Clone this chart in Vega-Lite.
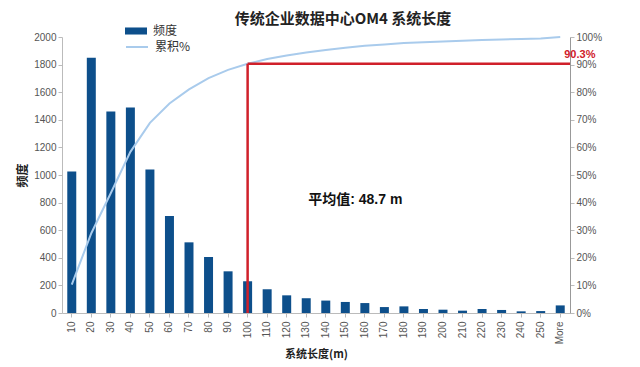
{
  "$schema": "https://vega.github.io/schema/vega-lite/v6.json",
  "autosize": {"type": "none"},
  "width": 508,
  "height": 276,
  "padding": {"left": 62, "top": 37, "right": 70, "bottom": 54},
  "background": "white",
  "config": {
    "view": {"stroke": null},
    "font": "Liberation Sans, Noto Sans CJK SC",
    "axis": {"labelFont": "Liberation Sans, Noto Sans CJK SC", "titleFont": "Noto Sans CJK SC", "grid": false, "domainColor": "#bbbbbb", "tickColor": "#bbbbbb", "labelColor": "#555555", "labelFontSize": 10, "tickSize": 4}
  },
  "title": {"text": "传统企业数据中心OM4 系统长度", "fontSize": 15, "fontWeight": "bold", "color": "#222222", "font": "Noto Sans CJK SC", "offset": -7, "dx": 27},
  "datasets": {
    "freq": [
      {"cat": "10", "freq": 1025, "cum": 0.103},
      {"cat": "20", "freq": 1850, "cum": 0.289},
      {"cat": "30", "freq": 1460, "cum": 0.435},
      {"cat": "40", "freq": 1490, "cum": 0.584},
      {"cat": "50", "freq": 1040, "cum": 0.689},
      {"cat": "60", "freq": 703, "cum": 0.759},
      {"cat": "70", "freq": 512, "cum": 0.810},
      {"cat": "80", "freq": 406, "cum": 0.851},
      {"cat": "90", "freq": 302, "cum": 0.881},
      {"cat": "100", "freq": 230, "cum": 0.903},
      {"cat": "110", "freq": 172, "cum": 0.920},
      {"cat": "120", "freq": 128, "cum": 0.933},
      {"cat": "130", "freq": 107, "cum": 0.944},
      {"cat": "140", "freq": 90, "cum": 0.953},
      {"cat": "150", "freq": 80, "cum": 0.961},
      {"cat": "160", "freq": 72, "cum": 0.968},
      {"cat": "170", "freq": 43, "cum": 0.973},
      {"cat": "180", "freq": 48, "cum": 0.978},
      {"cat": "190", "freq": 29, "cum": 0.981},
      {"cat": "200", "freq": 24, "cum": 0.984},
      {"cat": "210", "freq": 17, "cum": 0.986},
      {"cat": "220", "freq": 29, "cum": 0.989},
      {"cat": "230", "freq": 22, "cum": 0.991},
      {"cat": "240", "freq": 12, "cum": 0.993},
      {"cat": "250", "freq": 14, "cum": 0.995},
      {"cat": "More", "freq": 55, "cum": 1.0}
    ],
    "mark": [{"cat": "100", "cum": 0.903, "label": "90.3%"}],
    "labelpos": [{"cat": "More", "cum": 0.903, "label": "90.3%"}],
    "mean": [{"cat": "130", "cum": 0.41, "label": "平均值: 48.7 m"}]
  },
  "encoding": {
    "x": {
      "field": "cat", "type": "ordinal", "sort": null,
      "scale": {"domain": ["10","20","30","40","50","60","70","80","90","100","110","120","130","140","150","160","170","180","190","200","210","220","230","240","250","More"], "paddingInner": 0.54, "paddingOuter": 0.27},
      "axis": {"title": "系统长度(m)", "titleFontSize": 11, "titleFontWeight": "bold", "titleColor": "#222222", "labelAngle": -90, "titlePadding": 5, "labelPadding": 4}
    }
  },
  "layer": [
    {
      "data": {"name": "freq"},
      "mark": {"type": "bar", "color": "#0d4f8b"},
      "encoding": {
        "y": {"field": "freq", "type": "quantitative", "scale": {"domain": [0, 2000]}, "axis": {"title": "频度", "format": "d", "titleFontSize": 12, "titleFontWeight": "bold", "titleColor": "#222222", "values": [0,200,400,600,800,1000,1200,1400,1600,1800,2000], "titlePadding": 4}},
        "color": {"datum": "频度", "scale": {"range": ["#0d4f8b"]}, "legend": {"orient": "none", "legendX": 63, "legendY": -17, "title": null, "symbolType": "M-1,-0.32H1V0.32H-1Z", "symbolSize": 484, "symbolStrokeWidth": 0, "labelFontSize": 12, "labelColor": "#333333", "labelFont": "Noto Sans CJK SC", "labelOffset": 6}}
      }
    },
    {
      "encoding": {
        "y": {"field": "cum", "type": "quantitative", "scale": {"domain": [0, 1]}, "axis": {"orient": "right", "title": null, "format": ".0%", "values": [0,0.1,0.2,0.3,0.4,0.5,0.6,0.7,0.8,0.9,1], "domainColor": "#999999"}}
      },
      "layer": [
        {
          "data": {"name": "freq"},
          "mark": {"type": "line", "color": "#a9cbec", "strokeWidth": 2},
          "encoding": {
            "color": {"datum": "累积%", "scale": {"range": ["#a9cbec"]}, "legend": {"orient": "none", "legendX": 63, "legendY": -2, "title": null, "symbolType": "stroke", "symbolSize": 484, "symbolStrokeWidth": 2, "labelFontSize": 12, "labelColor": "#333333", "labelFont": "Noto Sans CJK SC", "labelOffset": 6}}
          }
        },
        {
          "data": {"name": "mark"},
          "mark": {"type": "rule", "color": "#d0202a", "strokeWidth": 2.5},
          "encoding": {"y2": {"datum": 0}}
        },
        {
          "data": {"name": "mark"},
          "mark": {"type": "rule", "color": "#d0202a", "strokeWidth": 2.5},
          "encoding": {"x2": {"value": "width"}}
        },
        {
          "data": {"name": "labelpos"},
          "mark": {"type": "text", "color": "#d0202a", "fontWeight": "bold", "fontSize": 11, "align": "left", "dx": 4, "dy": -9, "font": "Liberation Sans"},
          "encoding": {"text": {"field": "label"}}
        },
        {
          "data": {"name": "mean"},
          "mark": {"type": "text", "color": "#111111", "fontWeight": "bold", "fontSize": 14, "align": "left", "dx": 2, "font": "Liberation Sans, Noto Sans CJK SC"},
          "encoding": {"text": {"field": "label"}}
        }
      ]
    }
  ],
  "resolve": {"scale": {"y": "independent", "color": "independent"}}
}
